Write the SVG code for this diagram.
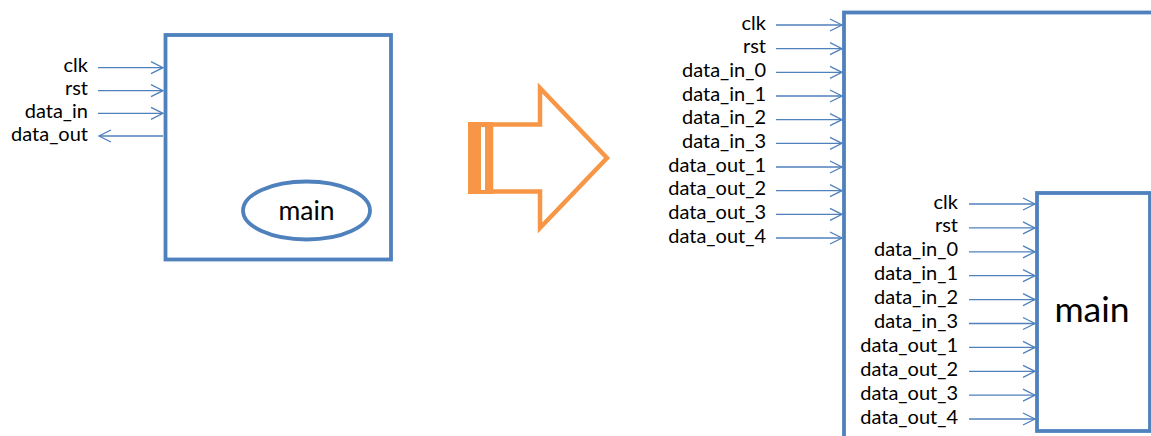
<svg xmlns="http://www.w3.org/2000/svg" width="1151" height="436" viewBox="0 0 1151 436">
<style>
.box{fill:#fff;stroke:#4F81BD;stroke-width:3.8}
.wire{stroke:#4F81BD;stroke-width:1.3;fill:none;marker-end:url(#ah)}
.lbl{font-family:Lato,"Liberation Sans",sans-serif;font-size:20px;fill:#000;text-anchor:end}
.big{font-family:Lato,"Liberation Sans",sans-serif;fill:#000;text-anchor:middle}
</style>
<defs>
<marker id="ah" markerUnits="userSpaceOnUse" markerWidth="14" markerHeight="14" refX="12" refY="6" orient="auto" overflow="visible">
<path d="M0,0 L12,6 L0,12" fill="none" stroke="#4F81BD" stroke-width="1.3"/>
</marker>
</defs>
<rect width="1151" height="436" fill="#fff"/>

<g id="left-module">
<rect class="box" x="165.5" y="35" width="225.5" height="224.5"/>
</g>
<g id="left-main">
<ellipse cx="306.5" cy="210.5" rx="63.5" ry="29" fill="#fff" stroke="#4F81BD" stroke-width="3.8"/>
<text class="big" x="306.5" y="220" font-size="26.5">main</text>
</g>

<g id="transform-arrow">
<rect x="468" y="122" width="25" height="72" fill="#F79646"/>
<rect x="481" y="127" width="4" height="63" fill="#fff"/>
<path d="M491,124.5 H540 V88 L607,158 L540,228 V191.5 H491 Z" fill="#fff" stroke="#F79646" stroke-width="4.5"/>
</g>

<g id="outer-module">
<rect class="box" x="844" y="12.5" width="400" height="500"/>
</g>
<g id="inner-main">
<rect class="box" x="1037" y="193" width="113" height="238"/>
<text class="big" x="1092" y="322" font-size="35.5">main</text>
</g>

<g id="connectors">
<line class="wire" x1="98" y1="67.7" x2="163" y2="67.7"/>
<line class="wire" x1="98" y1="90.7" x2="163" y2="90.7"/>
<line class="wire" x1="98" y1="113.3" x2="163" y2="113.3"/>
<line class="wire" x1="163" y1="136" x2="99" y2="136"/>

<line class="wire" x1="776" y1="25" x2="842" y2="25"/>
<line class="wire" x1="776" y1="48.7" x2="842" y2="48.7"/>
<line class="wire" x1="776" y1="72.3" x2="842" y2="72.3"/>
<line class="wire" x1="776" y1="96" x2="842" y2="96"/>
<line class="wire" x1="776" y1="119.7" x2="842" y2="119.7"/>
<line class="wire" x1="776" y1="143.3" x2="842" y2="143.3"/>
<line class="wire" x1="776" y1="167" x2="842" y2="167"/>
<line class="wire" x1="776" y1="190.7" x2="842" y2="190.7"/>
<line class="wire" x1="776" y1="214.3" x2="842" y2="214.3"/>
<line class="wire" x1="776" y1="238" x2="842" y2="238"/>

<line class="wire" x1="969" y1="204" x2="1035" y2="204"/>
<line class="wire" x1="969" y1="227.9" x2="1035" y2="227.9"/>
<line class="wire" x1="969" y1="251.8" x2="1035" y2="251.8"/>
<line class="wire" x1="969" y1="275.7" x2="1035" y2="275.7"/>
<line class="wire" x1="969" y1="299.6" x2="1035" y2="299.6"/>
<line class="wire" x1="969" y1="323.5" x2="1035" y2="323.5"/>
<line class="wire" x1="969" y1="347.4" x2="1035" y2="347.4"/>
<line class="wire" x1="969" y1="371.3" x2="1035" y2="371.3"/>
<line class="wire" x1="969" y1="395.2" x2="1035" y2="395.2"/>
<line class="wire" x1="969" y1="419" x2="1035" y2="419"/>
</g>

<g id="labels-left">
<text class="lbl" x="88" y="72">clk</text>
<text class="lbl" x="88" y="95">rst</text>
<text class="lbl" x="88" y="118">data_in</text>
<text class="lbl" x="88" y="141">data_out</text>
</g>
<g id="labels-outer">
<text class="lbl" x="766" y="29.5">clk</text>
<text class="lbl" x="766" y="53">rst</text>
<text class="lbl" x="766" y="76.8">data_in_0</text>
<text class="lbl" x="766" y="100.5">data_in_1</text>
<text class="lbl" x="766" y="124.2">data_in_2</text>
<text class="lbl" x="766" y="147.8">data_in_3</text>
<text class="lbl" x="766" y="171.5">data_out_1</text>
<text class="lbl" x="766" y="195.2">data_out_2</text>
<text class="lbl" x="766" y="218.8">data_out_3</text>
<text class="lbl" x="766" y="242.5">data_out_4</text>
</g>
<g id="labels-inner">
<text class="lbl" x="958" y="208.5">clk</text>
<text class="lbl" x="958" y="232.4">rst</text>
<text class="lbl" x="958" y="256.3">data_in_0</text>
<text class="lbl" x="958" y="280.2">data_in_1</text>
<text class="lbl" x="958" y="304.1">data_in_2</text>
<text class="lbl" x="958" y="328">data_in_3</text>
<text class="lbl" x="958" y="351.9">data_out_1</text>
<text class="lbl" x="958" y="375.8">data_out_2</text>
<text class="lbl" x="958" y="399.7">data_out_3</text>
<text class="lbl" x="958" y="423.5">data_out_4</text>
</g>
</svg>
